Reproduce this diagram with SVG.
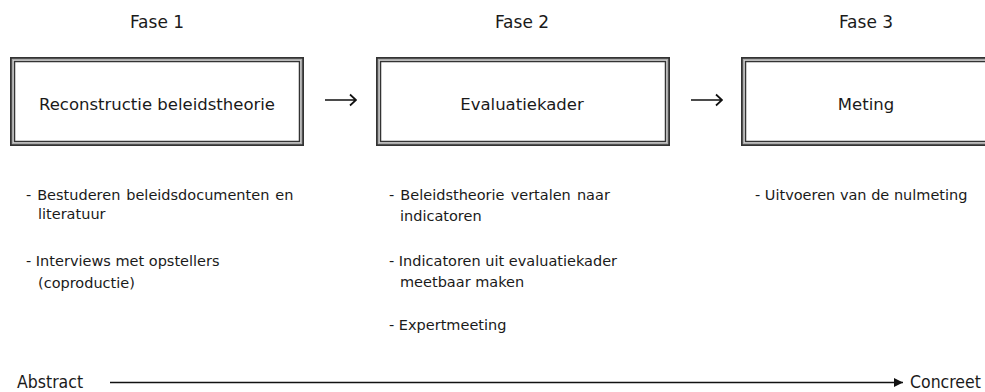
<svg xmlns="http://www.w3.org/2000/svg" width="985" height="392" viewBox="0 0 985 392">
<defs>
<style>
text{font-family:"DejaVu Sans","Liberation Sans",sans-serif;font-size:14.5px;fill:#1a1a1a}
.c{text-anchor:middle}
.t{font-size:16.5px}
.f{font-size:17px}
.outer{fill:#fff;stroke:#333;stroke-width:2}
.inner{fill:none;stroke:#333;stroke-width:1.5}
.gap{fill:none;stroke:#aaa;stroke-width:1.5}
.ax{font-family:"DejaVu Sans Condensed","DejaVu Sans",sans-serif;font-size:17.5px}
.arr{stroke:#111;stroke-width:1.7;fill:none}
</style>
<marker id="ah" viewBox="0 0 10 10" refX="10" refY="5" markerWidth="9" markerHeight="9" markerUnits="userSpaceOnUse" orient="auto"><path d="M0,0 L10,5 L0,10 z" fill="#111"/></marker>
</defs>
<rect width="985" height="392" fill="#fff"/>
<g id="labels">
<text class="c f" x="157" y="28">Fase 1</text>
<text class="c f" x="522" y="28">Fase 2</text>
<text class="c f" x="866" y="28">Fase 3</text>
</g>
<g id="node1">
<rect class="outer" x="11" y="58" width="292" height="87"/>
<rect class="gap" x="12.5" y="59.5" width="289" height="84"/>
<rect class="inner" x="14.5" y="61.5" width="285" height="80"/>
<text class="c t" x="157" y="110">Reconstructie beleidstheorie</text>
</g>
<g id="node2">
<rect class="outer" x="377" y="58" width="292" height="87"/>
<rect class="gap" x="378.5" y="59.5" width="289" height="84"/>
<rect class="inner" x="380.5" y="61.5" width="285" height="80"/>
<text class="c t" x="522" y="110">Evaluatiekader</text>
</g>
<g id="node3">
<rect class="outer" x="742" y="58" width="260" height="87"/>
<rect class="gap" x="743.5" y="59.5" width="257" height="84"/>
<rect class="inner" x="745.5" y="61.5" width="253" height="80"/>
<text class="c t" x="866" y="110">Meting</text>
</g>
<g id="connectors">
<path class="arr" d="M325,100 H356 M350,94.5 L356,100 L350,105.5"/>
<path class="arr" d="M691,100 H722 M716,94.5 L722,100 L716,105.5"/>
<line x1="110" y1="382.5" x2="903" y2="382.5" stroke="#111" stroke-width="1.3" marker-end="url(#ah)"/>
</g>
<g id="bullets1">
<text x="26" y="200" word-spacing="1.3">- Bestuderen beleidsdocumenten en</text>
<text x="38" y="219">literatuur</text>
<text x="26" y="266">- Interviews met opstellers</text>
<text x="38" y="288">(coproductie)</text>
</g>
<g id="bullets2">
<text x="389" y="200" word-spacing="1.5">- Beleidstheorie vertalen naar</text>
<text x="400" y="221">indicatoren</text>
<text x="389" y="266">- Indicatoren uit evaluatiekader</text>
<text x="400" y="287">meetbaar maken</text>
<text x="389" y="330">- Expertmeeting</text>
</g>
<g id="bullets3">
<text x="755" y="200">- Uitvoeren van de nulmeting</text>
</g>
<g id="axis">
<text class="ax" x="17" y="388">Abstract</text>
<text class="ax" x="910" y="388">Concreet</text>
</g>
</svg>
